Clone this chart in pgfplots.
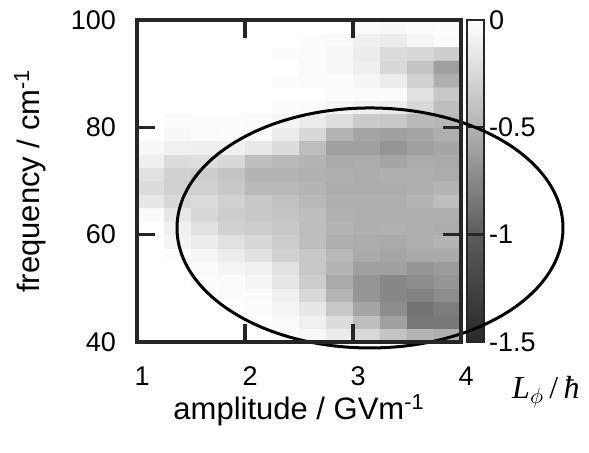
\documentclass[border=0pt]{standalone}
\usepackage{fontspec}
\setmainfont{Liberation Sans}
\newfontfamily\lserif{Liberation Serif}
\usepackage{pgfplots}
\pgfplotsset{compat=1.18}
\usetikzlibrary{calc}

\definecolor{axcol}{rgb}{0.15,0.15,0.15}
\pgfplotsset{
  colormap={lgray}{gray(0cm)=(0.16); gray(1cm)=(0.36); gray(2cm)=(0.70); gray(3cm)=(1)},
}

\begin{document}
\begin{tikzpicture}[font=\fontsize{13.5}{15}\selectfont]
\begin{axis}[
  scale only axis,
  width=162pt, height=161pt,
  xmin=1, xmax=4, ymin=40, ymax=100,
  xtick={1,2,3,4}, ytick={40,60,80,100},
  axis on top,
  tick align=inside,
  major tick length=9pt,
  axis line style={draw=axcol, line width=1.4pt},
  major tick style={draw=axcol, line width=1.4pt},
  /pgf/number format/assume math mode=true,
  xticklabel style={yshift=-9pt, xshift=2.5pt},
  yticklabel style={xshift=-7pt},
  xlabel={amplitude / GVm\textsuperscript{-1}},
  ylabel={frequency / cm\textsuperscript{-1}},
  label style={font=\fontsize{15.5}{17}\selectfont},
  xlabel style={at={(axis description cs:0.5,-0.212)}, anchor=center},
  ylabel style={at={(axis description cs:-0.33,0.5)}, anchor=center},
  colormap name=lgray,
  point meta min=-1.5, point meta max=0,
  colorbar,
  colorbar style={
    at={(parent axis.north east)}, anchor=north west, xshift=-5.5pt,
    width=8.5pt,
    ytick={-1.5,-1,-0.5,0},
    yticklabels={-1.5,-1,-0.5,0},
    axis on top,
    tick align=inside,
    ytick pos=right,
    major tick length=8.5pt,
    axis line style={draw=axcol, line width=1.2pt},
    major tick style={draw=axcol, line width=1.2pt},
    yticklabel style={xshift=-1pt},
  },
  clip=false,
]
\addplot[matrix plot*, mesh/cols=12, point meta=explicit] coordinates {
(1.125,41.25)[0] (1.375,41.25)[0] (1.625,41.25)[0] (1.875,41.25)[0] (2.125,41.25)[0] (2.375,41.25)[-0.02] (2.625,41.25)[-0.05] (2.875,41.25)[-0.13] (3.125,41.25)[-0.26] (3.375,41.25)[-0.39] (3.625,41.25)[-0.49] (3.875,41.25)[-0.52]
(1.125,43.75)[0] (1.375,43.75)[0] (1.625,43.75)[0] (1.875,43.75)[0] (2.125,43.75)[0] (2.375,43.75)[-0.03] (2.625,43.75)[-0.10] (2.875,43.75)[-0.23] (3.125,43.75)[-0.43] (3.375,43.75)[-0.61] (3.625,43.75)[-0.84] (3.875,43.75)[-0.84]
(1.125,46.25)[0] (1.375,46.25)[0] (1.625,46.25)[0] (1.875,46.25)[0] (2.125,46.25)[-0.02] (2.375,46.25)[-0.07] (2.625,46.25)[-0.16] (2.875,46.25)[-0.36] (3.125,46.25)[-0.58] (3.375,46.25)[-0.72] (3.625,46.25)[-0.87] (3.875,46.25)[-0.81]
(1.125,48.75)[0] (1.375,48.75)[0] (1.625,48.75)[0] (1.875,48.75)[-0.02] (2.125,48.75)[-0.03] (2.375,48.75)[-0.10] (2.625,48.75)[-0.26] (2.875,48.75)[-0.49] (3.125,48.75)[-0.67] (3.375,48.75)[-0.75] (3.625,48.75)[-0.78] (3.875,48.75)[-0.72]
(1.125,51.25)[0] (1.375,51.25)[0] (1.625,51.25)[-0.02] (1.875,51.25)[-0.03] (2.125,51.25)[-0.07] (2.375,51.25)[-0.16] (2.625,51.25)[-0.33] (2.875,51.25)[-0.55] (3.125,51.25)[-0.67] (3.375,51.25)[-0.75] (3.625,51.25)[-0.72] (3.875,51.25)[-0.67]
(1.125,53.75)[0] (1.375,53.75)[0] (1.625,53.75)[-0.03] (1.875,53.75)[-0.07] (2.125,53.75)[-0.10] (2.375,53.75)[-0.20] (2.625,53.75)[-0.36] (2.875,53.75)[-0.49] (3.125,53.75)[-0.61] (3.375,53.75)[-0.61] (3.625,53.75)[-0.67] (3.875,53.75)[-0.64]
(1.125,56.25)[0] (1.375,56.25)[-0.02] (1.625,56.25)[-0.07] (1.875,56.25)[-0.13] (2.125,56.25)[-0.20] (2.375,56.25)[-0.30] (2.625,56.25)[-0.36] (2.875,56.25)[-0.46] (3.125,56.25)[-0.55] (3.375,56.25)[-0.58] (3.625,56.25)[-0.55] (3.875,56.25)[-0.55]
(1.125,58.75)[0] (1.375,58.75)[-0.07] (1.625,58.75)[-0.13] (1.875,58.75)[-0.20] (2.125,58.75)[-0.26] (2.375,58.75)[-0.33] (2.625,58.75)[-0.43] (2.875,58.75)[-0.52] (3.125,58.75)[-0.54] (3.375,58.75)[-0.55] (3.625,58.75)[-0.52] (3.875,58.75)[-0.49]
(1.125,61.25)[0] (1.375,61.25)[-0.10] (1.625,61.25)[-0.20] (1.875,61.25)[-0.30] (2.125,61.25)[-0.33] (2.375,61.25)[-0.36] (2.625,61.25)[-0.43] (2.875,61.25)[-0.49] (3.125,61.25)[-0.52] (3.375,61.25)[-0.51] (3.625,61.25)[-0.52] (3.875,61.25)[-0.54]
(1.125,63.75)[-0.03] (1.375,63.75)[-0.16] (1.625,63.75)[-0.26] (1.875,63.75)[-0.33] (2.125,63.75)[-0.36] (2.375,63.75)[-0.39] (2.625,63.75)[-0.43] (2.875,63.75)[-0.51] (3.125,63.75)[-0.52] (3.375,63.75)[-0.52] (3.625,63.75)[-0.52] (3.875,63.75)[-0.52]
(1.125,66.25)[-0.16] (1.375,66.25)[-0.26] (1.625,66.25)[-0.23] (1.875,66.25)[-0.30] (2.125,66.25)[-0.36] (2.375,66.25)[-0.41] (2.625,66.25)[-0.46] (2.875,66.25)[-0.52] (3.125,66.25)[-0.52] (3.375,66.25)[-0.52] (3.625,66.25)[-0.49] (3.875,66.25)[-0.43]
(1.125,68.75)[-0.23] (1.375,68.75)[-0.30] (1.625,68.75)[-0.30] (1.875,68.75)[-0.36] (2.125,68.75)[-0.46] (2.375,68.75)[-0.46] (2.625,68.75)[-0.49] (2.875,68.75)[-0.54] (3.125,68.75)[-0.54] (3.375,68.75)[-0.54] (3.625,68.75)[-0.52] (3.875,68.75)[-0.49]
(1.125,71.25)[-0.20] (1.375,71.25)[-0.30] (1.625,71.25)[-0.33] (1.875,71.25)[-0.39] (2.125,71.25)[-0.49] (2.375,71.25)[-0.49] (2.625,71.25)[-0.51] (2.875,71.25)[-0.52] (3.125,71.25)[-0.54] (3.375,71.25)[-0.52] (3.625,71.25)[-0.52] (3.875,71.25)[-0.54]
(1.125,73.75)[-0.11] (1.375,73.75)[-0.23] (1.625,73.75)[-0.22] (1.875,73.75)[-0.26] (2.125,73.75)[-0.43] (2.375,73.75)[-0.46] (2.625,73.75)[-0.49] (2.875,73.75)[-0.55] (3.125,73.75)[-0.54] (3.375,73.75)[-0.58] (3.625,73.75)[-0.54] (3.875,73.75)[-0.55]
(1.125,76.25)[-0.05] (1.375,76.25)[-0.10] (1.625,76.25)[-0.11] (1.875,76.25)[-0.10] (2.125,76.25)[-0.15] (2.375,76.25)[-0.23] (2.625,76.25)[-0.43] (2.875,76.25)[-0.61] (3.125,76.25)[-0.61] (3.375,76.25)[-0.67] (3.625,76.25)[-0.61] (3.875,76.25)[-0.58]
(1.125,78.75)[0] (1.375,78.75)[-0.05] (1.625,78.75)[-0.03] (1.875,78.75)[-0.02] (2.125,78.75)[-0.03] (2.375,78.75)[-0.13] (2.625,78.75)[-0.26] (2.875,78.75)[-0.49] (3.125,78.75)[-0.58] (3.375,78.75)[-0.61] (3.625,78.75)[-0.58] (3.875,78.75)[-0.52]
(1.125,81.25)[0] (1.375,81.25)[-0.03] (1.625,81.25)[-0.02] (1.875,81.25)[-0.02] (2.125,81.25)[-0.03] (2.375,81.25)[-0.07] (2.625,81.25)[-0.13] (2.875,81.25)[-0.22] (3.125,81.25)[-0.34] (3.375,81.25)[-0.36] (3.625,81.25)[-0.45] (3.875,81.25)[-0.47]
(1.125,83.75)[0] (1.375,83.75)[0] (1.625,83.75)[0] (1.875,83.75)[0] (2.125,83.75)[0] (2.375,83.75)[-0.02] (2.625,83.75)[-0.03] (2.875,83.75)[-0.07] (3.125,83.75)[-0.10] (3.375,83.75)[-0.13] (3.625,83.75)[-0.26] (3.875,83.75)[-0.43]
(1.125,86.25)[0] (1.375,86.25)[0] (1.625,86.25)[0] (1.875,86.25)[0] (2.125,86.25)[0] (2.375,86.25)[0] (2.625,86.25)[0] (2.875,86.25)[-0.02] (3.125,86.25)[-0.03] (3.375,86.25)[-0.03] (3.625,86.25)[-0.20] (3.875,86.25)[-0.36]
(1.125,88.75)[0] (1.375,88.75)[0] (1.625,88.75)[0] (1.875,88.75)[0] (2.125,88.75)[0] (2.375,88.75)[-0.02] (2.625,88.75)[-0.03] (2.875,88.75)[-0.03] (3.125,88.75)[-0.07] (3.375,88.75)[-0.13] (3.625,88.75)[-0.30] (3.875,88.75)[-0.52]
(1.125,91.25)[0] (1.375,91.25)[0] (1.625,91.25)[0] (1.875,91.25)[0] (2.125,91.25)[0] (2.375,91.25)[0] (2.625,91.25)[-0.03] (2.875,91.25)[-0.05] (3.125,91.25)[-0.11] (3.375,91.25)[-0.26] (3.625,91.25)[-0.39] (3.875,91.25)[-0.61]
(1.125,93.75)[0] (1.375,93.75)[0] (1.625,93.75)[0] (1.875,93.75)[0] (2.125,93.75)[0] (2.375,93.75)[-0.02] (2.625,93.75)[-0.03] (2.875,93.75)[-0.05] (3.125,93.75)[-0.13] (3.375,93.75)[-0.23] (3.625,93.75)[-0.26] (3.875,93.75)[-0.33]
(1.125,96.25)[0] (1.375,96.25)[0] (1.625,96.25)[0] (1.875,96.25)[0] (2.125,96.25)[0] (2.375,96.25)[0] (2.625,96.25)[-0.02] (2.875,96.25)[-0.03] (3.125,96.25)[-0.10] (3.375,96.25)[-0.13] (3.625,96.25)[-0.07] (3.875,96.25)[-0.03]
(1.125,98.75)[0] (1.375,98.75)[0] (1.625,98.75)[0] (1.875,98.75)[0] (2.125,98.75)[0] (2.375,98.75)[0] (2.625,98.75)[0] (2.875,98.75)[0] (3.125,98.75)[-0.03] (3.375,98.75)[-0.05] (3.625,98.75)[-0.03] (3.875,98.75)[-0.02]
};
% positions used after the axis for the frame, ellipse and outer label
\coordinate (o) at (rel axis cs:0,0);
\coordinate (tr) at (rel axis cs:1,1);
\coordinate (x2) at (axis cs:2,40);
\coordinate (x3) at (axis cs:3,40);
\coordinate (y6) at (axis cs:1,60);
\coordinate (y8) at (axis cs:1,80);
\coordinate (ec) at (axis cs:3.157,61.24);
\coordinate (ex) at (axis cs:4.944,61.24);
\coordinate (ey) at (axis cs:3.157,83.6);
\coordinate (lab) at (rel axis cs:1.262,-0.155);
\coordinate (bbl) at (rel axis cs:-0.423,-0.342);
\coordinate (bbr) at (rel axis cs:1.395,1.062);
\end{axis}
\draw[line width=1.5pt] let \p0=(ec), \p1=(ex), \p2=(ey) in
  (ec) ellipse [x radius={\x1-\x0}, y radius={\y2-\y0}];
% frame and inner ticks, drawn last so nothing covers them
\draw[draw=axcol, line width=1.6pt]
  (o) rectangle (tr)
  (x2) -- ++(0,9pt)  (x2 |- tr) -- ++(0,-9pt)
  (x3) -- ++(0,9pt)  (x3 |- tr) -- ++(0,-9pt)
  (y6) -- ++(9pt,0)  (y6 -| tr) -- ++(-9pt,0)
  (y8) -- ++(9pt,0)  (y8 -| tr) -- ++(-9pt,0);
\node[font=\lserif\fontsize{16}{18}\selectfont] at (lab)
  {\textit{L}$_{\phi}$\,/\,\textit{ħ}};
\path (bbl) rectangle (bbr);
\end{tikzpicture}
\end{document}
